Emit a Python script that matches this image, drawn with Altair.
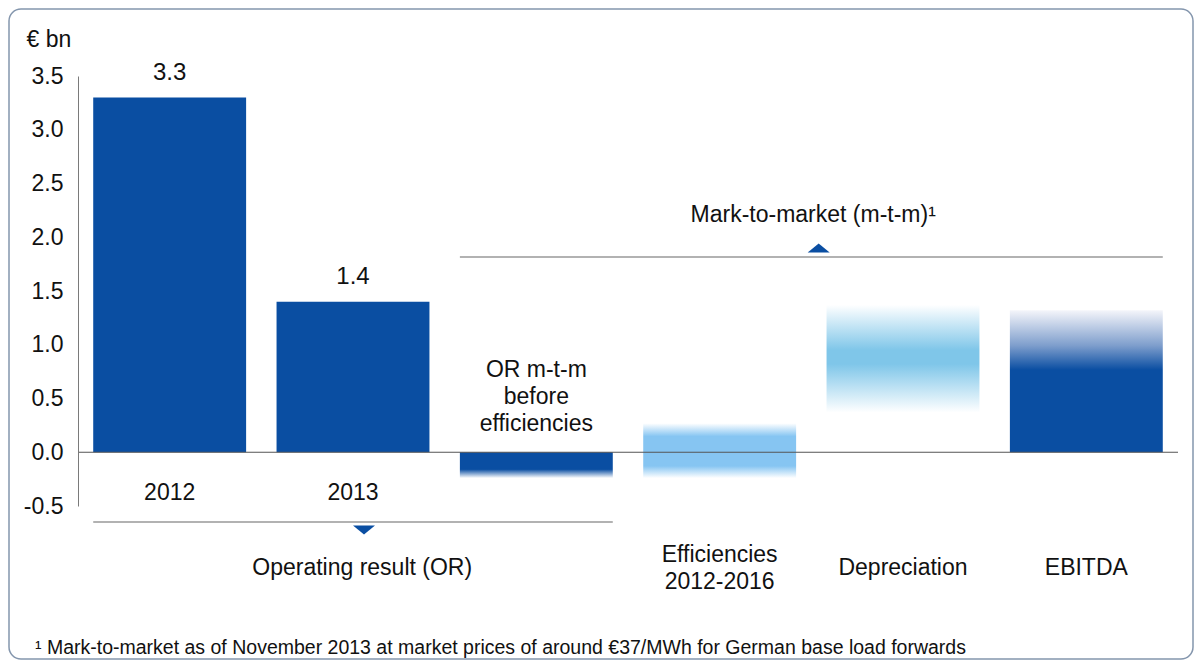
import altair as alt
import pandas as pd

# ---------------- data ----------------
categories = ["2012", "2013", "OR m-t-m before efficiencies", "Efficiencies 2012-2016", "Depreciation", "EBITDA"]
bar_start = [0.0, 0.0, 0.0, -0.24, 0.37, 0.0]
bar_end = [3.3, 1.4, -0.24, 0.27, 1.37, 1.32]
value_labels = ["3.3", "1.4", "", "", "", ""]
label_text = ["2012", "2013", "OR m-t-m\nbefore\nefficiencies", "Efficiencies\n2012-2016", "Depreciation", "EBITDA"]

brackets = ["Operating result (OR)", "Mark-to-market (m-t-m)¹"]
bracket_from = [0, 2]
bracket_to = [2, 5]

y_ticks = [-0.5, 0.0, 0.5, 1.0, 1.5, 2.0, 2.5, 3.0, 3.5]
y_title = "€ bn"
footnote = "¹ Mark-to-market as of November 2013 at market prices of around €37/MWh for German base load forwards"

# ---------------- tables ----------------
bars = pd.DataFrame({
    "idx": list(range(len(categories))),
    "category": categories,
    "start": bar_start,
    "end": bar_end,
    "vlabel": value_labels,
    "label": label_text,
})
br = pd.DataFrame({"name": brackets, "b0": bracket_from, "b1": bracket_to})
one = pd.DataFrame({"a": [0]})

DARK = "#0a4ea2"
FONT = "Liberation Sans"
TXT = "#111111"
FS = 23
HALF = 0.417
W, H = 1100, 430

xs = alt.Scale(domain=[-0.5, 5.5], nice=False, zero=False)
ys = alt.Scale(domain=[-0.5, 3.5], nice=False, zero=False)


def grad(stops):
    return alt.LinearGradient(
        gradient="linear", x1=0, y1=0, x2=0, y2=1,
        stops=[alt.GradientStop(offset=o, color=c) for o, c in stops],
    )


fills = {
    0: DARK,
    1: DARK,
    2: grad([(0, DARK), (0.66, DARK), (1, "#ffffff")]),
    3: grad([(0, "#ffffff"), (0.24, "#86c5f2"), (0.78, "#86c5f2"), (1, "#ffffff")]),
    4: grad([(0, "#ffffff"), (0.42, "#7fc6e9"), (0.55, "#7fc6e9"), (1, "#ffffff")]),
    5: grad([(0, "#f4f5fa"), (0.25, "#7d9dcc"), (0.42, DARK), (1, DARK)]),
}

base = alt.Chart(bars).transform_calculate(
    x0=f"datum.idx - {HALF}", x1=f"datum.idx + {HALF}"
)

# frame
frame = alt.Chart(one).mark_rect(
    fill="transparent", stroke="#8496ad", strokeWidth=1.5, cornerRadius=12
).encode(
    x=alt.value(-69), x2=alt.value(1115), y=alt.value(-67), y2=alt.value(583)
)

layers = [frame]

# axis carrier (invisible) to hold the y axis
axis_layer = base.mark_point(opacity=0).encode(
    x=alt.X("idx:Q", scale=xs, axis=None),
    y=alt.Y(
        "start:Q", scale=ys,
        axis=alt.Axis(
            values=y_ticks, grid=False, ticks=False, domainColor="#7a7a7a", domainWidth=1,
            labelExpr="replace(format(datum.value, '.1f'), '\u2212', '-')",
            labelFontSize=FS, labelColor=TXT, labelPadding=15, labelFont=FONT,
            title=y_title, titleAngle=0, titleX=-52, titleY=-30, titleAlign="left",
            titleBaseline="alphabetic", titleFontSize=FS, titleFontWeight="normal",
            titleColor=TXT, titleFont=FONT, zindex=1,
        ),
    ),
)
layers.append(axis_layer)

for i, f in fills.items():
    layers.append(
        base.transform_filter(alt.datum.idx == i).mark_rect(fill=f).encode(
            x=alt.X("x0:Q", scale=xs, axis=None), x2="x1:Q",
            y=alt.Y("start:Q", scale=ys), y2="end:Q",
        )
    )

# zero line
layers.append(
    alt.Chart(one).mark_rule(color="#555555", strokeWidth=1.2).encode(y=alt.datum(0, scale=ys))
)

# value labels
layers.append(
    base.transform_filter("datum.vlabel != ''").mark_text(
        fontSize=24, font=FONT, color=TXT, baseline="bottom", dy=-13
    ).encode(x=alt.X("idx:Q", scale=xs), y=alt.Y("end:Q", scale=ys), text="vlabel:N")
)

# category labels (y = centre of first line)
label_y = {0: 417, 1: 417, 2: 294, 3: 479, 4: 492, 5: 492}
for i, yy in label_y.items():
    layers.append(
        base.transform_filter(alt.datum.idx == i).mark_text(
            fontSize=FS, font=FONT, color=TXT, baseline="middle", lineBreak="\n", lineHeight=27
        ).encode(x=alt.X("idx:Q", scale=xs), y=alt.value(yy), text="label:N")
    )

# brackets
brb = alt.Chart(br).transform_calculate(
    bx0=f"datum.b0 - {HALF}", bx1=f"datum.b1 + {HALF}", bm=f"(datum.b0 + datum.b1) / 2"
)
DOWN = "M-1,-0.4L1,-0.4L0,0.4Z"
UP = "M-1,0.4L1,0.4L0,-0.4Z"
bracket_specs = [
    # (index, line y, marker y, marker shape, text y, marker offset, text offset)
    (0, 446, 454, DOWN, 492, 0.06, 0.05),
    (1, 181, 172, UP, 139, 0.04, 0.01),
]
for i, ly, my, shp, ty, off, toff in bracket_specs:
    sel = brb.transform_filter(alt.datum.name == brackets[i])
    layers.append(
        sel.mark_rule(color="#666666", strokeWidth=1.2).encode(
            x=alt.X("bx0:Q", scale=xs), x2="bx1:Q", y=alt.value(ly)
        )
    )
    layers.append(
        sel.transform_calculate(bmm=f"datum.bm + {off}").mark_point(
            shape=shp, filled=True, color=DARK, size=484, opacity=1, strokeWidth=0
        ).encode(x=alt.X("bmm:Q", scale=xs), y=alt.value(my))
    )
    layers.append(
        sel.transform_calculate(bt=f"datum.bm + {toff}").mark_text(
            fontSize=FS, font=FONT, color=TXT, baseline="middle"
        ).encode(x=alt.X("bt:Q", scale=xs), y=alt.value(ty), text="name:N")
    )

# footnote
layers.append(
    alt.Chart(one).mark_text(
        fontSize=19.5, font=FONT, color=TXT, align="left", baseline="middle", text=footnote
    ).encode(x=alt.value(-43), y=alt.value(572))
)

chart = alt.layer(*layers).properties(
    width=W, height=H, padding=0, background="white"
).configure_view(stroke="transparent", strokeWidth=0)

chart.save("out.html", embed_options={"renderer": "svg", "actions": False})
